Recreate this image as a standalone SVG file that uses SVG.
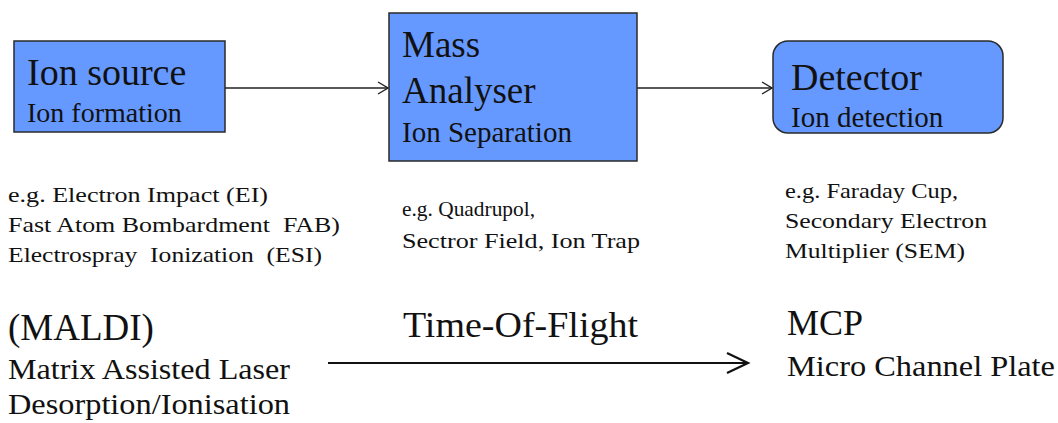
<svg xmlns="http://www.w3.org/2000/svg" width="1058" height="423" viewBox="0 0 1058 423" font-family="Liberation Serif">
  <style>
    .box { fill: #6699FF; stroke: #2a2a2a; stroke-width: 1.5; }
    .flow { stroke: #222; stroke-width: 1.4; fill: none; }
    .tof { stroke: #111; stroke-width: 2.2; fill: none; }
  </style>
  <defs>
    <marker id="openHead" markerWidth="12" markerHeight="14" refX="11" refY="7" orient="auto" markerUnits="userSpaceOnUse">
      <path d="M1,1 L11,7 L1,13" fill="none" stroke="#222" stroke-width="1.4"/>
    </marker>
  </defs>

  <rect width="1058" height="423" fill="#ffffff"/>

  <!-- connectors -->
  <g id="connectors">
    <line class="flow" x1="225" y1="88" x2="388" y2="88" marker-end="url(#openHead)"/>
    <line class="flow" x1="637" y1="88" x2="772" y2="88" marker-end="url(#openHead)"/>
    <line class="tof" x1="328" y1="363" x2="747" y2="363"/>
    <path class="tof" d="M727,353 L748,363 L727,373"/>
  </g>

  <!-- ion source -->
  <g id="ion-source" font-family="Liberation Serif" fill="#111">
    <rect class="box" x="14" y="41" width="211" height="91"/>
    <text x="27" y="85" font-size="38">Ion source</text>
    <text x="27" y="122" font-size="28">Ion formation</text>
  </g>

  <!-- mass analyser -->
  <g id="mass-analyser" font-family="Liberation Serif" fill="#111">
    <rect class="box" x="389" y="13" width="248" height="148"/>
    <text x="402" y="57" font-size="37">Mass</text>
    <text x="402" y="103" font-size="37">Analyser</text>
    <text x="402" y="142" font-size="29">Ion Separation</text>
  </g>

  <!-- detector -->
  <g id="detector" font-family="Liberation Serif" fill="#111">
    <rect class="box" x="773" y="41" width="230" height="92" rx="15" ry="15"/>
    <text x="791" y="90" font-size="38">Detector</text>
    <text x="791" y="127" font-size="29">Ion detection</text>
  </g>

  <!-- examples -->
  <g id="source-examples" font-family="Liberation Serif" fill="#111">
    <text x="8" y="202" font-size="22" textLength="260" lengthAdjust="spacingAndGlyphs">e.g. Electron Impact (EI)</text>
    <text x="8" y="232" font-size="22" textLength="332" lengthAdjust="spacingAndGlyphs" xml:space="preserve">Fast Atom Bombardment  FAB)</text>
    <text x="8" y="262" font-size="22" textLength="314" lengthAdjust="spacingAndGlyphs" xml:space="preserve">Electrospray  Ionization  (ESI)</text>
  </g>
  <g id="analyser-examples" font-family="Liberation Serif" fill="#111">
    <text x="402" y="216" font-size="22" textLength="133" lengthAdjust="spacingAndGlyphs">e.g. Quadrupol,</text>
    <text x="402" y="248" font-size="22" textLength="238" lengthAdjust="spacingAndGlyphs">Sectror Field, Ion Trap</text>
  </g>
  <g id="detector-examples" font-family="Liberation Serif" fill="#111">
    <text x="785" y="198" font-size="22" textLength="173" lengthAdjust="spacingAndGlyphs">e.g. Faraday Cup,</text>
    <text x="785" y="228" font-size="22" textLength="202" lengthAdjust="spacingAndGlyphs">Secondary Electron</text>
    <text x="785" y="258" font-size="22" textLength="180" lengthAdjust="spacingAndGlyphs">Multiplier (SEM)</text>
  </g>

  <!-- MALDI / TOF / MCP -->
  <g id="maldi" font-family="Liberation Serif" fill="#111">
    <text x="8" y="340" font-size="37">(MALDI)</text>
    <text x="8" y="379" font-size="30" textLength="282" lengthAdjust="spacingAndGlyphs">Matrix Assisted Laser</text>
    <text x="8" y="414" font-size="30" textLength="282" lengthAdjust="spacingAndGlyphs">Desorption/Ionisation</text>
  </g>
  <g id="tof" font-family="Liberation Serif" fill="#111">
    <text x="403" y="337" font-size="35" textLength="235" lengthAdjust="spacingAndGlyphs">Time-Of-Flight</text>
  </g>
  <g id="mcp" font-family="Liberation Serif" fill="#111">
    <text x="787" y="335" font-size="36">MCP</text>
    <text x="787" y="376" font-size="30" textLength="268" lengthAdjust="spacingAndGlyphs">Micro Channel Plate</text>
  </g>
</svg>
